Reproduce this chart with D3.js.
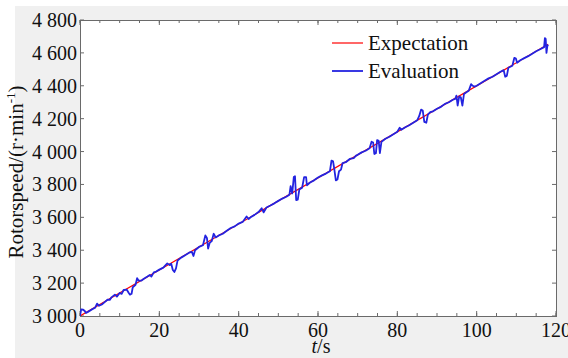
<!DOCTYPE html>
<html>
<head>
<meta charset="utf-8">
<script src="https://cdn.jsdelivr.net/npm/d3@7"></script>
<style>
  body { margin: 0; background: #fff; }
  svg { display: block; font-family: "Liberation Serif", "Times New Roman", serif; }
</style>
</head>
<body>
<svg class="chart"></svg>
<script>
// expectation: straight reference ramp
var expTime  = [0, 118]
var expSpeed = [3000, 4652]

// evaluation (t in s, speed in r/min)
var evalTime = [0, 0.3, 0.8, 1.2, 1.5, 2, 3, 3.8, 4.3, 4.8, 5.5, 6, 7, 7.5, 8, 8.8, 9.3, 10, 10.5, 11, 11.8, 12.3, 12.6, 13, 13.3, 14, 14.4, 14.8, 15.5, 16, 17, 17.6, 18, 18.6, 19.2, 20,
  21, 22, 22.6, 23, 23.4, 23.8, 24.2, 24.6, 25.5, 26.5, 27.5, 28.2, 28.6, 29, 30, 31, 31.6, 32, 32.3, 32.7, 33.2, 33.7, 34.2, 35, 36, 37, 38, 39, 40,
  41, 42, 42.5, 43, 44, 45, 45.8, 46.3, 47, 48, 49, 50, 51, 52, 52.8, 53.1, 53.5, 53.9, 54.2, 54.5, 54.9, 55.3, 56, 56.5, 57, 57.2, 58, 59, 60,
  61, 62, 63, 63.4, 63.8, 64.1, 64.5, 64.9, 65.3, 65.8, 66.2, 67, 68, 69, 69.6, 70, 71, 72, 73, 73.5, 73.9, 74.2, 74.6, 74.9, 75.3, 75.6, 76, 77, 78, 79, 80,
  80.6, 81, 82, 83, 84, 85, 85.5, 86, 86.4, 86.8, 87.3, 87.7, 88.3, 89, 90, 91, 92, 93, 94, 94.6, 94.9, 95.2, 95.6, 96, 96.4, 96.8, 97.5, 98, 98.6, 99, 99.5, 100,
  101, 102, 103, 104, 105, 106, 106.8, 107.2, 107.6, 108, 109, 109.5, 109.9, 110.2, 111, 112, 113, 114, 115, 116, 117, 117.2, 117.4, 117.6, 117.8, 118]
var evalSpeed = [3000, 3040, 3038, 3030, 3018, 3025, 3040, 3050, 3075, 3062, 3070, 3080, 3100, 3098, 3115, 3130, 3118, 3140, 3135, 3158, 3160, 3140, 3130, 3135, 3175, 3190, 3230, 3215, 3215, 3225, 3240, 3250, 3240, 3265, 3270, 3282,
  3294, 3320, 3310, 3318, 3280, 3268, 3290, 3338, 3355, 3370, 3385, 3390, 3365, 3400, 3420, 3430, 3490, 3475, 3410, 3445, 3455, 3500, 3478, 3490, 3500, 3518, 3535, 3545, 3562,
  3572, 3605, 3590, 3600, 3615, 3632, 3655, 3630, 3660, 3672, 3685, 3700, 3714, 3725, 3738, 3790, 3745, 3845, 3850, 3705, 3708, 3770, 3780, 3845, 3845, 3795, 3812, 3825, 3842,
  3855, 3866, 3880, 3945, 3940, 3895, 3825, 3830, 3880, 3890, 3930, 3935, 3955, 3960, 3975, 3980, 3995, 4005, 4020, 4060, 4055, 3985, 3990, 4070, 4065, 3990, 4060, 4078, 4090, 4105, 4120,
  4145, 4132, 4148, 4160, 4175, 4190, 4215, 4255, 4250, 4180, 4175, 4225, 4240, 4245, 4260, 4272, 4290, 4300, 4315, 4320, 4340, 4280, 4335, 4330, 4280, 4350, 4362, 4370, 4410, 4400, 4395, 4400,
  4415, 4430, 4445, 4455, 4470, 4485, 4495, 4455, 4460, 4510, 4522, 4570, 4565, 4540, 4555, 4568, 4580, 4595, 4610, 4622, 4635, 4690, 4685, 4600, 4640, 4650]

var xTicks = [0, 20, 40, 60, 80, 100, 120]
var yTicks = [3000, 3200, 3400, 3600, 3800, 4000, 4200, 4400, 4600, 4800]
var seriesNames = ["Expectation", "Evaluation"]
var seriesColors = ["#ff0000", "#2323e0"]

var W = 568, H = 358
var margin = {top: 20, right: 12, bottom: 42, left: 80},
    width  = W - margin.left - margin.right,
    height = H - margin.top - margin.bottom

var chart = d3.select(".chart").attr("width", W).attr("height", H)

// grey figure background with a thin white strip top/left
chart.append("rect").attr("width", W).attr("height", H).attr("fill", "#fff")
chart.append("rect").attr("x", 15).attr("y", 6).attr("width", W - 15).attr("height", H - 6).attr("fill", "#f0f0f0")

var g = chart.append("g").attr("transform", "translate(" + margin.left + "," + margin.top + ")")

var x = d3.scaleLinear().domain([0, 120]).range([0, width])
var y = d3.scaleLinear().domain([3000, 4800]).range([height, 0])

g.append("rect").attr("width", width).attr("height", height).attr("fill", "#fff")

function addSpace(v) {
  return d3.format(",")(v).replace(/,/g, " ")
}

var axisColor = "#6a6a6a"
var minorX = d3.range(0, 121, 5)

// ticks, drawn inward on all four sides
function tickMarks(vals, scale, horiz, pos, len) {
  g.selectAll(null).data(vals).enter().append("line")
    .attr("x1", function(d) { return horiz ? scale(d) : pos })
    .attr("x2", function(d) { return horiz ? scale(d) : pos + len })
    .attr("y1", function(d) { return horiz ? pos : scale(d) })
    .attr("y2", function(d) { return horiz ? pos + len : scale(d) })
    .attr("stroke", axisColor).attr("stroke-width", 1)
}
tickMarks(minorX, x, true, height, -3)
tickMarks(xTicks, x, true, height, -5)
tickMarks(minorX, x, true, 0, 3)
tickMarks(xTicks, x, true, 0, 5)
tickMarks(yTicks, y, false, 0, 4)
tickMarks(yTicks, y, false, width, -4)

g.append("rect").attr("x", 0.5).attr("y", 0.5).attr("width", width).attr("height", height)
  .attr("fill", "none").attr("stroke", axisColor).attr("stroke-width", 1)

// data lines
var clip = g.append("clipPath").attr("id", "clip").append("rect").attr("width", width).attr("height", height)

var line = d3.line()
  .x(function(d) { return x(d[0]) })
  .y(function(d) { return y(d[1]) })

var evalData = d3.zip(evalTime, evalSpeed)
var expData = d3.zip(expTime, expSpeed)

g.append("path").datum(expData)
  .attr("d", line).attr("fill", "none")
  .attr("stroke", seriesColors[0]).attr("stroke-width", 1.2)
  .attr("clip-path", "url(#clip)")

g.append("path").datum(evalData)
  .attr("d", line).attr("fill", "none")
  .attr("stroke", seriesColors[1]).attr("stroke-width", 1.8).attr("stroke-linejoin", "round")
  .attr("clip-path", "url(#clip)")

// tick labels
g.selectAll(".xl").data(xTicks).enter().append("text")
  .attr("x", function(d) { return x(d) })
  .attr("y", height + 21)
  .attr("text-anchor", "middle")
  .attr("font-size", 20).attr("fill", "#111")
  .text(function(d) { return d })

g.selectAll(".yl").data(yTicks).enter().append("text")
  .attr("x", -3)
  .attr("y", function(d) { return y(d) + 7 })
  .attr("text-anchor", "end")
  .attr("font-size", 20).attr("fill", "#111")
  .text(addSpace)

// axis titles
var xt = g.append("text")
  .attr("x", width / 2 + 3).attr("y", height + 37)
  .attr("text-anchor", "middle").attr("font-size", 20).attr("fill", "#111")
xt.append("tspan").attr("font-style", "italic").text("t")
xt.append("tspan").text("/s")

var yt = chart.append("text")
  .attr("transform", "translate(23," + 172 + ") rotate(-90)")
  .attr("text-anchor", "middle").attr("font-size", 21).attr("fill", "#111")
yt.append("tspan").text("Rotorspeed/(r·min")
yt.append("tspan").attr("font-size", 13).attr("dy", -8).text("-1")
yt.append("tspan").attr("dy", 8).text(")")

// legend
var legend = chart.append("g")
seriesNames.forEach(function(name, i) {
  var ly = 43 + i * 28
  legend.append("line")
    .attr("x1", 332).attr("x2", 363).attr("y1", ly).attr("y2", ly)
    .attr("stroke", seriesColors[i]).attr("stroke-width", i ? 1.8 : 1.2)
  legend.append("text")
    .attr("x", 368).attr("y", ly + 7)
    .attr("font-size", 21).attr("fill", "#111")
    .text(name)
})
</script>
</body>
</html>
